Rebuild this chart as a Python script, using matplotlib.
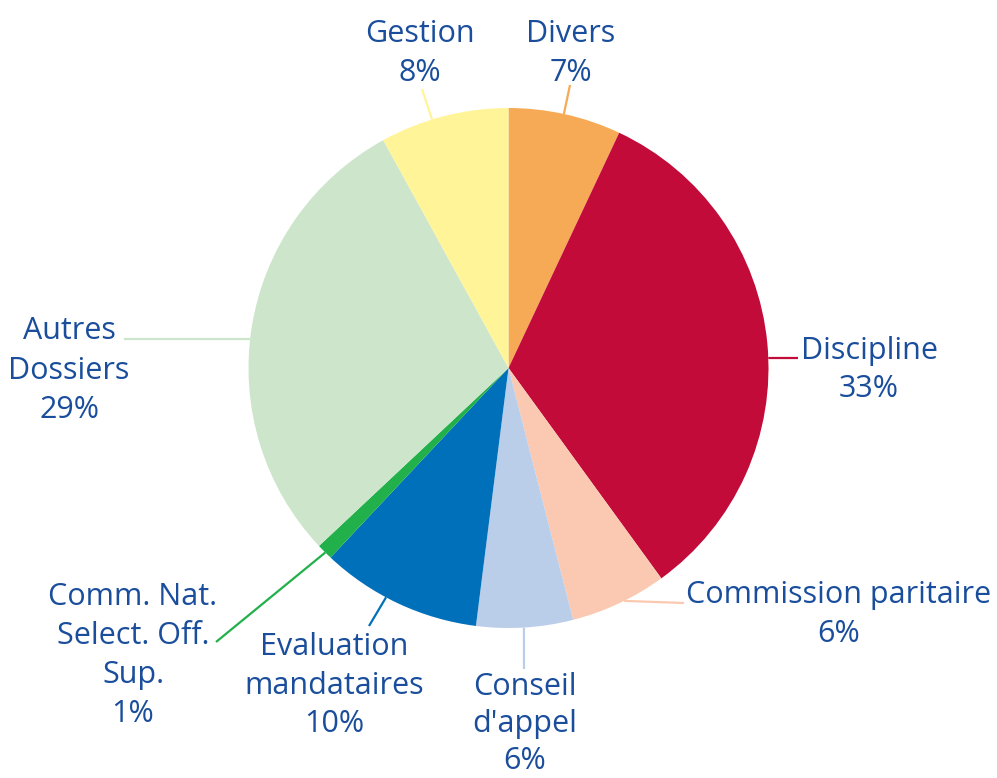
import numpy as np
import matplotlib
matplotlib.use("Agg")
import matplotlib.pyplot as plt

# Share of files by category (percent), clockwise from the top
categories = ["Divers", "Discipline", "Commission paritaire", "Conseil\nd'appel",
              "Evaluation\nmandataires", "Comm. Nat.\nSelect. Off.\nSup.",
              "Autres\nDossiers", "Gestion"]
values = [7, 33, 6, 6, 10, 1, 29, 8]
colors = ["#F7AA55", "#C30B3A", "#FBC9B1", "#BACDE9",
          "#0070BA", "#22B04B", "#CDE6CB", "#FFF498"]

W, H = 997, 778
CX, CY, R = 508.5, 368.0, 260.0   # pie centre / radius in pixels (y from top)
TEXT_COLOR = "#1a4e9c"

# label layout: (leader angle clockwise from top, leader end (x, y),
#                text centre x, first baseline y, line step)
layout = {
    "Divers": (12.3, (570, 85), 571, 42, 39),
    "Discipline": (87.8, (798, 358), 869, 359, 38),
    "Commission paritaire": (153.6, (684, 603), 839, 603, 39),
    "Conseil\nd'appel": (176.6, (524, 669), 525, 695, 37),
    "Evaluation\nmandataires": (208.1, (369, 626), 334, 655, 38.5),
    "Comm. Nat.\nSelect. Off.\nSup.": (224.8, (216, 642), 133, 605, 39),
    "Autres\nDossiers": (276.4, (124, 339), 69, 339, 39.5),
    "Gestion": (342.9, (422, 89), 420, 42, 39),
}

fig = plt.figure(figsize=(W / 100, H / 100), dpi=100)
ax = fig.add_axes([0, 0, 1, 1])


def fy(y):
    return H - y


ax.pie(values, colors=colors, startangle=90, counterclock=False,
       center=(CX, fy(CY)), radius=R, wedgeprops=dict(linewidth=0))

for cat, val, col in zip(categories, values, colors):
    ang, (ex, ey), tx, ty, step = layout[cat]
    a = np.deg2rad(ang)
    sx = CX + R * np.sin(a)
    sy = CY - R * np.cos(a)
    ax.plot([sx, ex], [fy(sy), fy(ey)], color=col, lw=1.6,
            solid_capstyle="butt", zorder=1)
    lines = cat.split("\n") + [f"{val}%"]
    for i, line in enumerate(lines):
        ax.text(tx, fy(ty + i * step), line, ha="center", va="baseline",
                fontsize=22, color=TEXT_COLOR, family="Open Sans")

ax.set_xlim(0, W)
ax.set_ylim(0, H)
ax.set_aspect("equal")
ax.axis("off")

fig.savefig("out.png", dpi=100)
